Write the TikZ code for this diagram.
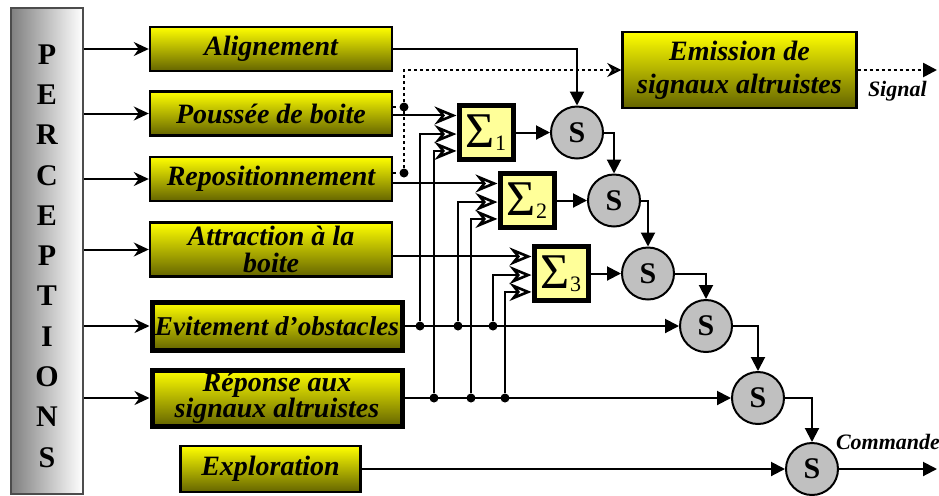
\documentclass[tikz,border=0pt]{standalone}
\usepackage{fontspec}
\setmainfont{Liberation Serif}
\usetikzlibrary{arrows.meta}

\definecolor{boxbottom}{RGB}{100,100,0}
\definecolor{sumfill}{RGB}{255,255,153}
\definecolor{circfill}{RGB}{192,192,192}

\newcommand\sumtxt[1]{{\fontsize{25}{25}\selectfont Σ}\raisebox{-1.5pt}{\fontsize{11}{11}\selectfont #1}}

\tikzset{
  behav/.style={draw=black, line width=1.2pt, top color=yellow, bottom color=boxbottom,
    inner sep=0pt, align=center, font=\bfseries\itshape\fontsize{14}{13.2}\selectfont},
  thickbehav/.style={behav, line width=2.5pt},
  sumbox/.style={draw=black, line width=2.5pt, fill=sumfill, minimum size=27pt, inner sep=0pt},
  snode/.style={circle, draw=black, line width=1pt, fill=circfill, minimum size=26pt,
    inner sep=0pt, font=\bfseries\fontsize{15}{15}\selectfont},
  junc/.style={circle, fill=black, inner sep=0pt, minimum size=4.5pt},
  parr/.style={line width=1pt, -{Stealth[length=7.5pt,width=7pt]}},
  sarr/.style={line width=1pt, -{Stealth[open,length=11pt,width=9pt,line width=1.3pt]}},
  tarr/.style={line width=1pt, -{Triangle[length=7pt,width=7pt]}},
  sigl/.style={line width=1.3pt, dash pattern=on 1.5pt off 1.5pt},
  lbl/.style={inner sep=0pt, font=\bfseries\itshape\fontsize{11}{13}\selectfont}
}

\begin{document}
\begin{tikzpicture}[x=0.5pt,y=-0.5pt]
\useasboundingbox (0,0) rectangle (939,495);
% perceptions
\node[draw=black!70, line width=1pt, left color=gray, right color=white,
  minimum width=36pt, minimum height=243pt] (percep) at (47,251) {};
\node[align=center, inner sep=0pt, font=\bfseries\fontsize{15}{20.15}\selectfont] (letters) at (47,256)
  {P\\E\\R\\C\\E\\P\\T\\I\\O\\N\\S};
% behaviours
\node[behav, minimum width=121pt, minimum height=22pt] (align) at (271,49) {Alignement};
\node[behav, minimum width=121pt, minimum height=22pt] (pousse) at (271,113.5) {Poussée de boite};
\node[behav, minimum width=121pt, minimum height=22pt] (repos) at (271,179) {Repositionnement};
\node[behav, minimum width=121pt, minimum height=27pt] (attrac) at (271,249.5) {Attraction à la\\boite};
\node[thickbehav, minimum width=125pt, minimum height=24pt, font=\bfseries\itshape\fontsize{13.6}{13}\selectfont]
  (evit) at (277,326) {Evitement d’obstacles};
\node[thickbehav, minimum width=125pt, minimum height=28pt] (repon) at (277,398) {Réponse aux\\signaux altruistes};
\node[behav, minimum width=90pt, minimum height=23pt] (explo) at (270.5,469) {Exploration};
\node[behav, minimum width=117pt, minimum height=38pt, font=\bfseries\itshape\fontsize{14}{16.5}\selectfont]
  (emiss) at (739.5,70) {Emission de\\signaux altruistes};
% sums and suppressors
\node[sumbox] (sig1) at (486,132.5) {\sumtxt{1}};
\node[sumbox] (sig2) at (527,200.5) {\sumtxt{2}};
\node[sumbox] (sig3) at (561,273.5) {\sumtxt{3}};
\foreach \n/\x/\y in {1/577/132.5, 2/614/200.5, 3/648/273.5, 4/706/326, 5/758/398, 6/812/469}
  \node[snode] (s\n) at (\x,\y) {S};

% perceptions -> behaviours
\foreach \b in {align,pousse,repos,attrac,evit,repon}
  \draw[parr] (percep.east |- \b) -- (\b);

% inputs of the sums
\draw[sarr] (pousse.east |- sig1.150) -- (sig1.150);
\draw[sarr] (repos.east |- sig2.150) -- (sig2.150);
\draw[sarr] (attrac.east |- sig3.150) -- (sig3.150);
\foreach \j/\x in {j1/420, j2/458, j3/493}
  \node[junc] (\j) at (\x,326) {};
\foreach \j/\x in {k1/434, k2/471, k3/505}
  \node[junc] (\j) at (\x,398) {};
\draw[sarr] (j1) |- (sig1.183);
\draw[sarr] (k1) |- (sig1.212);
\draw[sarr] (j2) |- (sig2.183);
\draw[sarr] (k2) |- (sig2.212);
\draw[sarr] (j3) |- (sig3.183);
\draw[sarr] (k3) |- (sig3.212);

% altruist signal
\node[junc] (dp) at (404,107) {};
\node[junc] (dr) at (404,173) {};
\draw[sigl] (pousse.east |- dp) -- (dp);
\draw[sigl] (repos.east |- dr) -- (dr);
\draw[sigl, -{Stealth[open,length=7pt,width=7pt]}] (dr) |- (emiss.west);
\coordinate (sgn) at (937,70);
\draw[sigl, -{Triangle[length=7pt,width=7pt]}] (emiss) -- (sgn)
  node[lbl, midway, below=5pt] {Signal};

% suppression chain
\draw[tarr] (align.east) -| (s1.north);
\draw[tarr] (sig1) -- (s1);
\draw[tarr] (sig2) -- (s2);
\draw[tarr] (sig3) -- (s3);
\draw[tarr] (s1.east) -| (s2.north);
\draw[tarr] (s2.east) -| (s3.north);
\draw[tarr] (s3.east) -| (s4.north);
\draw[tarr] (s4.east) -| (s5.north);
\draw[tarr] (s5.east) -| (s6.north);
\draw[tarr] (evit) -- (s4);
\draw[tarr] (repon) -- (s5);
\draw[tarr] (explo) -- (s6);
\coordinate (cmd) at (937,469);
\draw[tarr] (s6) -- (cmd) node[lbl, midway, above=9pt] {Commande};
\end{tikzpicture}
\end{document}
